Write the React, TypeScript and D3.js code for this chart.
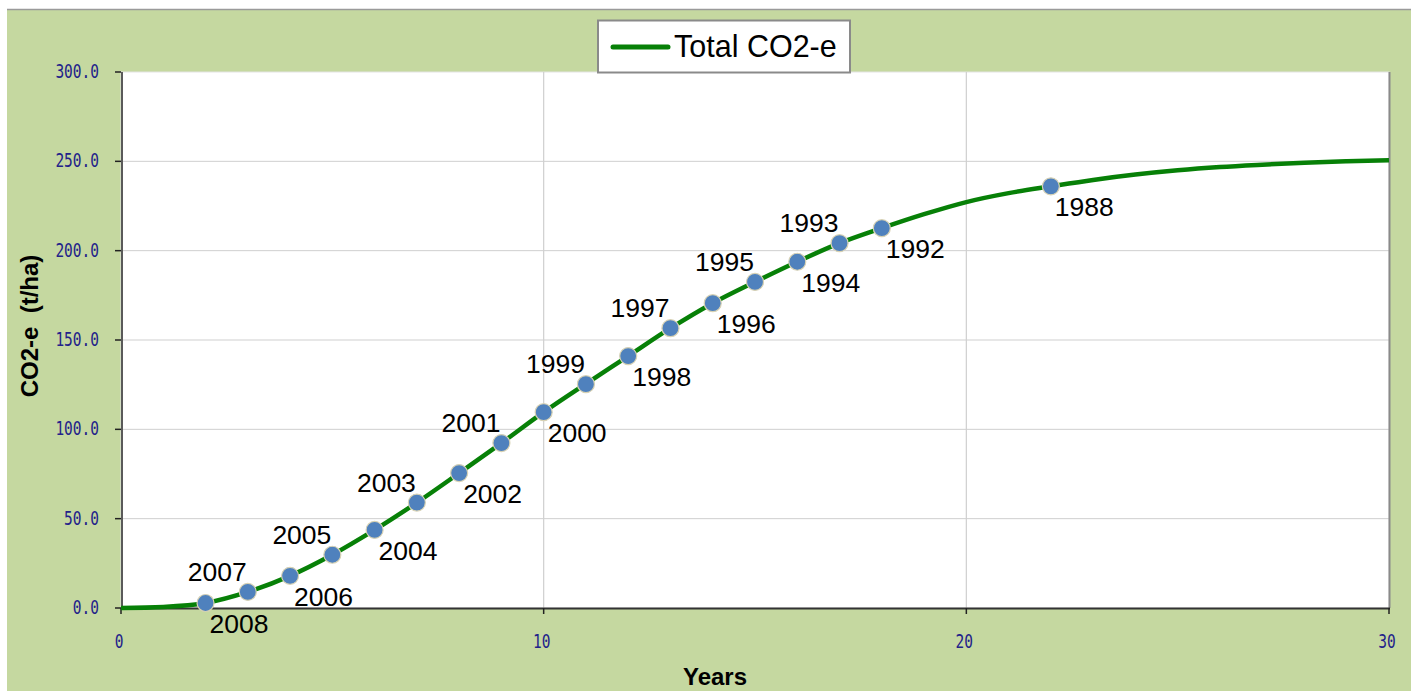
import React from "react";
import * as d3 from "d3";

// Curve: Total CO2-e by year (0..30)
const curveYears = [0,1,2,3,4,5,6,7,8,9,10,11,12,13,14,15,16,17,18,19,20,21,22,23,24,25,26,27,28,29,30];
const curveValues = [0,0.6,2.8,9,18,29.8,43.7,59,75.5,92.3,109.6,125.5,141,156.6,170.6,182.5,193.8,204.2,212.6,220.4,227.2,232.2,236,239.6,242.6,245,246.8,248.1,249.2,250,250.6];

// Planting-year points
const pointLabels = ["2008","2007","2006","2005","2004","2003","2002","2001","2000","1999","1998","1997","1996","1995","1994","1993","1992","1988"];
const pointYears = [2,3,4,5,6,7,8,9,10,11,12,13,14,15,16,17,18,22];
const pointValues = [2.8,9,18,29.8,43.7,59,75.5,92.3,109.6,125.3,141,156.6,170.6,182.5,193.8,204.2,212.6,236];

const yTicks = [0,50,100,150,200,250,300];
const xTicks = [0,10,20,30];

const legendLabel = "Total CO2-e";
const xTitle = "Years";
const yTitle = "CO2-e  (t/ha)";

export default function App() {
  const W = 1411, H = 691;
  const left = 121, right = 1389, top = 72, bottom = 608;
  const x = d3.scaleLinear().domain([0, 30]).range([left, right]);
  const y = d3.scaleLinear().domain([0, 300]).range([bottom, top]);
  const line = d3.line<number>()
    .x((_, i) => x(curveYears[i]))
    .y((v) => y(v))
    .curve(d3.curveMonotoneX);
  const pathD = line(curveValues) || "";
  const fmt = d3.format(".1f");
  const tickColor = "#22228a";
  const labelFont = "'Liberation Sans', Arial, sans-serif";
  const tickFont = "'DejaVu Sans Mono', monospace";

  return (
    <svg width={W} height={H} style={{ position: "absolute", left: 0, top: 0, display: "block" }}>
      <rect x={7} y={9} width={W - 7} height={H - 9} fill="#c5d8a0" />
      <line x1={7} x2={W} y1={9.5} y2={9.5} stroke="#9a9a9a" strokeWidth={1.5} />
      {/* plot area */}
      <rect x={left} y={top} width={right - left} height={bottom - top} fill="#ffffff" stroke="#e4e4e4" strokeWidth={1} />
      {/* grid */}
      {yTicks.filter(t => t > 0 && t < 300).map(t => (
        <line key={"gy" + t} x1={left} x2={right} y1={y(t)} y2={y(t)} stroke="#cfcfcf" strokeWidth={1} />
      ))}
      {xTicks.filter(t => t > 0 && t < 30).map(t => (
        <line key={"gx" + t} x1={x(t)} x2={x(t)} y1={top} y2={bottom} stroke="#cfcfcf" strokeWidth={1.2} />
      ))}
      {/* right border */}
      <line x1={right + 0.5} x2={right + 0.5} y1={top} y2={bottom} stroke="#8a8a8a" strokeWidth={2} />
      {/* axes */}
      <line x1={left + 1} x2={left + 1} y1={top} y2={bottom + 1} stroke="#5a5a5a" strokeWidth={2} />
      <line x1={left} x2={right + 1} y1={bottom + 0.5} y2={bottom + 0.5} stroke="#333333" strokeWidth={2} />
      {yTicks.map(t => (
        <g key={"yt" + t}>
          <line x1={left - 6} x2={left} y1={y(t)} y2={y(t)} stroke="#222" strokeWidth={1.5} />
          <text transform={`translate(99,${y(t) + 6}) scale(1,1.3)`} textAnchor="end" fontFamily={tickFont} fontSize={14.5} fill={tickColor}>{fmt(t)}</text>
        </g>
      ))}
      {xTicks.map(t => (
        <g key={"xt" + t}>
          <line x1={x(t)} x2={x(t)} y1={bottom} y2={bottom + 6} stroke="#222" strokeWidth={1.5} />
          <text transform={`translate(${x(t) - 2},648) scale(1,1.3)`} textAnchor="middle" fontFamily={tickFont} fontSize={14.5} fill={tickColor}>{t}</text>
        </g>
      ))}
      {/* axis titles */}
      <text x={715} y={685} textAnchor="middle" fontFamily={labelFont} fontWeight="bold" fontSize={24} fill="#000">{xTitle}</text>
      <text transform={`translate(38,326) rotate(-90)`} textAnchor="middle" fontFamily={labelFont} fontWeight="bold" fontSize={24} fill="#000" style={{ whiteSpace: "pre" }}>{yTitle}</text>
      {/* curve */}
      <path d={pathD} fill="none" stroke="#078007" strokeWidth={4.5} strokeLinejoin="round" />
      {/* points */}
      {pointYears.map((yr, i) => (
        <circle key={"p" + i} cx={x(yr)} cy={y(pointValues[i])} r={8.5} fill="#4f81bd" stroke="#d8d2b4" strokeWidth={1.2} />
      ))}
      {/* point labels */}
      {pointYears.map((yr, i) => {
        const px = x(yr), py = y(pointValues[i]);
        const odd = parseInt(pointLabels[i], 10) % 2 === 1;
        return (
          <text key={"l" + i}
            x={odd ? px - 1 : px + 4}
            y={odd ? py - 11 : py + 30}
            textAnchor={odd ? "end" : "start"}
            fontFamily={labelFont} fontSize={26.5} fill="#000">{pointLabels[i]}</text>
        );
      })}
      {/* legend */}
      <rect x={598} y={20.5} width={252} height={52} fill="#ffffff" stroke="#8a8a8a" strokeWidth={2} />
      <line x1={613} x2={668} y1={47} y2={47} stroke="#078007" strokeWidth={5} strokeLinecap="round" />
      <text x={674} y={57} fontFamily={labelFont} fontSize={30.5} fill="#000">{legendLabel}</text>
    </svg>
  );
}
